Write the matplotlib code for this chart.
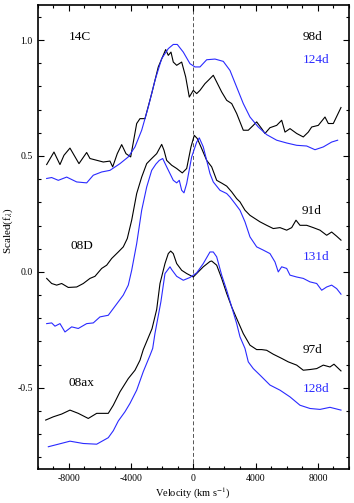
import matplotlib
matplotlib.use('Agg')
import matplotlib.pyplot as plt
from matplotlib.ticker import MultipleLocator

plt.rcParams.update({
    'font.family': ['Liberation Serif', 'DejaVu Serif'],
    'mathtext.fontset': 'stix',
    'axes.unicode_minus': False,
    'font.size': 7,
})

BLK = 'black'
BLU = '#2a2aff'

# ── 14C ──────────────────────────────────────────────────────────────────────
v_14c_98 = [-9413, -8944, -8559, -8302, -7917, -7339, -6846, -6632, -5778, -5350,
            -5175, -4880, -4597, -4321, -4019, -3634, -3422, -3101, -2671, -2247,
            -1772, -1605, -1432, -1284, -1066, -745, -488, -257, 0, 218, 430, 751,
            963, 1284, 1502, 1823, 2145, 2466, 2786, 3210, 3531, 3852, 4069, 4391,
            4603, 4924, 5354, 5675, 5888, 6209, 6639, 7062, 7384, 7602, 8026, 8456,
            8668, 8989, 9483]
f_14c_98 = [0.463, 0.517, 0.463, 0.503, 0.534, 0.467, 0.515, 0.489, 0.474, 0.478,
            0.453, 0.510, 0.549, 0.510, 0.496, 0.640, 0.661, 0.661, 0.769, 0.884,
            0.959, 0.934, 0.948, 0.905, 0.891, 0.905, 0.841, 0.754, 0.783, 0.769,
            0.783, 0.812, 0.826, 0.848, 0.819, 0.776, 0.740, 0.726, 0.683, 0.611,
            0.611, 0.632, 0.647, 0.618, 0.597, 0.622, 0.632, 0.654, 0.603, 0.618,
            0.597, 0.582, 0.603, 0.625, 0.632, 0.668, 0.640, 0.640, 0.709]

v_14c_124 = [-9413, -9092, -8666, -8128, -7486, -6844, -6420, -5881, -5350, -4706,
             -4173, -3743, -3313, -2889, -2459, -2028, -1605, -1284, -1027, -642,
             -212, 109, 430, 860, 1393, 1926, 2356, 2786, 3210, 3640, 4173, 4712,
             5354, 5996, 6639, 7281, 7814, 8347, 8883, 9268]
f_14c_124 = [0.403, 0.407, 0.395, 0.409, 0.388, 0.384, 0.417, 0.431, 0.438, 0.467,
             0.496, 0.539, 0.611, 0.711, 0.826, 0.920, 0.963, 0.981, 0.981, 0.948,
             0.898, 0.884, 0.884, 0.915, 0.918, 0.908, 0.869, 0.797, 0.726, 0.668,
             0.625, 0.592, 0.568, 0.556, 0.546, 0.543, 0.527, 0.539, 0.560, 0.568]

# ── 08D ──────────────────────────────────────────────────────────────────────
v_08d_91 = [-9413, -9092, -8771, -8450, -8026, -7486, -7062, -6632, -6311, -5881,
            -5560, -5239, -4815, -4494, -4237, -3955, -3634, -3313, -2992, -2671,
            -2350, -2028, -1881, -1708, -1387, -1066, -706, -424, -148, 64, 257,
            539, 860, 1181, 1502, 1823, 2145, 2466, 2786, 2998, 3319, 3640, 3961,
            4282, 4712, 5136, 5566, 5996, 6318, 6594, 6851, 7281, 7705, 8134, 8564,
            8883, 9204, 9483]
f_08d_91 = [-0.028, -0.050, -0.057, -0.050, -0.067, -0.065, -0.050, -0.028, -0.019,
            0.015, 0.029, 0.058, 0.086, 0.108, 0.144, 0.223, 0.338, 0.409, 0.467,
            0.489, 0.510, 0.550, 0.525, 0.481, 0.460, 0.446, 0.427, 0.446, 0.539,
            0.589, 0.575, 0.532, 0.481, 0.453, 0.395, 0.383, 0.370, 0.345, 0.316,
            0.302, 0.266, 0.244, 0.230, 0.216, 0.201, 0.187, 0.191, 0.180, 0.191,
            0.223, 0.201, 0.201, 0.191, 0.180, 0.158, 0.172, 0.154, 0.137]

v_08d_131 = [-9413, -9092, -8880, -8559, -8238, -7808, -7384, -6844, -6420, -5990,
             -5458, -5136, -4815, -4494, -4173, -3955, -3634, -3313, -2992, -2671,
             -2400, -2183, -1965, -1708, -1496, -1284, -1066, -899, -745, -597, -424,
             -103, 218, 385, 642, 860, 1072, 1284, 1714, 2145, 2356, 2677, 2998, 3319,
             3640, 4069, 4494, 4924, 5245, 5456, 5675, 5996, 6209, 6639, 7062, 7493,
             7923, 8244, 8564, 8883, 9204, 9483]
f_08d_131 = [-0.223, -0.220, -0.234, -0.223, -0.259, -0.237, -0.244, -0.223, -0.220,
             -0.194, -0.187, -0.158, -0.129, -0.100, -0.057, 0.007, 0.122, 0.266,
             0.366, 0.438, 0.465, 0.481, 0.489, 0.453, 0.424, 0.395, 0.384, 0.395,
             0.352, 0.341, 0.381, 0.496, 0.560, 0.578, 0.539, 0.481, 0.424, 0.388,
             0.352, 0.338, 0.323, 0.295, 0.266, 0.216, 0.151, 0.108, 0.094, 0.079,
             0.043, 0.000, 0.022, 0.015, -0.014, -0.022, -0.028, -0.043, -0.050,
             -0.079, -0.065, -0.057, -0.072, -0.096]

# ── 08ax ─────────────────────────────────────────────────────────────────────
v_08ax_97 = [-9477, -8990, -8450, -7917, -7384, -6742, -6202, -5458, -5136, -4706,
             -4173, -3743, -3422, -3210, -2992, -2650, -2350, -2138, -1817, -1605,
             -1451, -1284, -1066, -745, -424, 0, 642, 1072, 1181, 1502, 1823, 2145,
             2466, 2786, 3210, 3640, 4069, 4391, 4712, 5136, 5675, 6099, 6639, 7062,
             7493, 7923, 8347, 8776, 9032, 9483]
f_08ax_97 = [-0.639, -0.625, -0.613, -0.596, -0.610, -0.632, -0.610, -0.610, -0.575,
             -0.517, -0.460, -0.424, -0.381, -0.335, -0.300, -0.245, -0.162, -0.050,
             0.036, 0.079, 0.090, 0.079, 0.036, 0.007, -0.007, -0.022, 0.022, 0.045,
             0.047, 0.029, -0.028, -0.093, -0.151, -0.201, -0.266, -0.316, -0.335,
             -0.335, -0.338, -0.355, -0.373, -0.388, -0.402, -0.424, -0.421, -0.417,
             -0.402, -0.410, -0.398, -0.427]

v_08ax_128 = [-9306, -8665, -7917, -7062, -6202, -5458, -5136, -4815, -4385, -4064,
              -3634, -3210, -2780, -2606, -2459, -2080, -1817, -1496, -1387, -1066,
              -642, -212, 218, 642, 1072, 1284, 1502, 1823, 2145, 2466, 2786, 2998,
              3319, 3531, 3852, 4282, 4924, 5566, 6209, 6851, 7493, 8134, 8776, 9483]
f_08ax_128 = [-0.754, -0.743, -0.730, -0.740, -0.743, -0.715, -0.685, -0.643, -0.603,
              -0.567, -0.510, -0.430, -0.360, -0.330, -0.265, -0.129, -0.007, 0.022,
              0.010, -0.019, -0.036, -0.024, -0.004, 0.036, 0.086, 0.086, 0.065,
              -0.014, -0.079, -0.151, -0.223, -0.280, -0.330, -0.388, -0.417, -0.445,
              -0.488, -0.510, -0.539, -0.575, -0.589, -0.593, -0.584, -0.596]

curves = [
    (v_14c_98, f_14c_98, BLK), (v_14c_124, f_14c_124, BLU),
    (v_08d_91, f_08d_91, BLK), (v_08d_131, f_08d_131, BLU),
    (v_08ax_97, f_08ax_97, BLK), (v_08ax_128, f_08ax_128, BLU),
]

# label text, x, y, colour
labels = [
    ('14C', -7300, 1.015, BLK), ('98d', 7650, 1.015, BLK), ('124d', 7880, 0.915, BLU),
    ('08D', -7150, 0.111, BLK), ('91d', 7600, 0.263, BLK), ('131d', 7900, 0.065, BLU),
    ('08ax', -7150, -0.481, BLK), ('97d', 7650, -0.335, BLK), ('128d', 7880, -0.503, BLU),
]

fig = plt.figure(figsize=(3.54, 5.03), dpi=100)
ax = fig.add_axes([0.106, 0.0676, 0.880, 0.9224])

ax.axvline(0, color='#555555', ls=(0, (4, 2.5)), lw=0.7, zorder=1)
for v, f, c in curves:
    ax.plot(v, f, color=c, lw=0.8, zorder=2)

for txt, x, y, c in labels:
    ax.text(x, y, txt, color=c, fontsize=9.5, ha='center', va='center')

ax.set_xlim(-10000, 10000)
ax.set_ylim(-0.85, 1.151)
ax.xaxis.set_major_locator(MultipleLocator(4000))
ax.xaxis.set_minor_locator(MultipleLocator(1000))
ax.yaxis.set_major_locator(MultipleLocator(0.5))
ax.yaxis.set_minor_locator(MultipleLocator(0.1))
ax.tick_params(which='both', direction='in', top=True, right=True, labelsize=7, width=0.8)
ax.tick_params(which='major', length=4)
ax.tick_params(which='minor', length=2.5)
for sp in ax.spines.values():
    sp.set_linewidth(1.2)

ax.set_xlabel(r'Velocity (km s$^{-1}$)', fontsize=7.5, labelpad=2)
ax.set_ylabel(r'Scaled(f$_{\lambda}$)', fontsize=8)
ax.yaxis.set_label_coords(-0.072, 0.513)

fig.savefig('out.png', dpi=100)
